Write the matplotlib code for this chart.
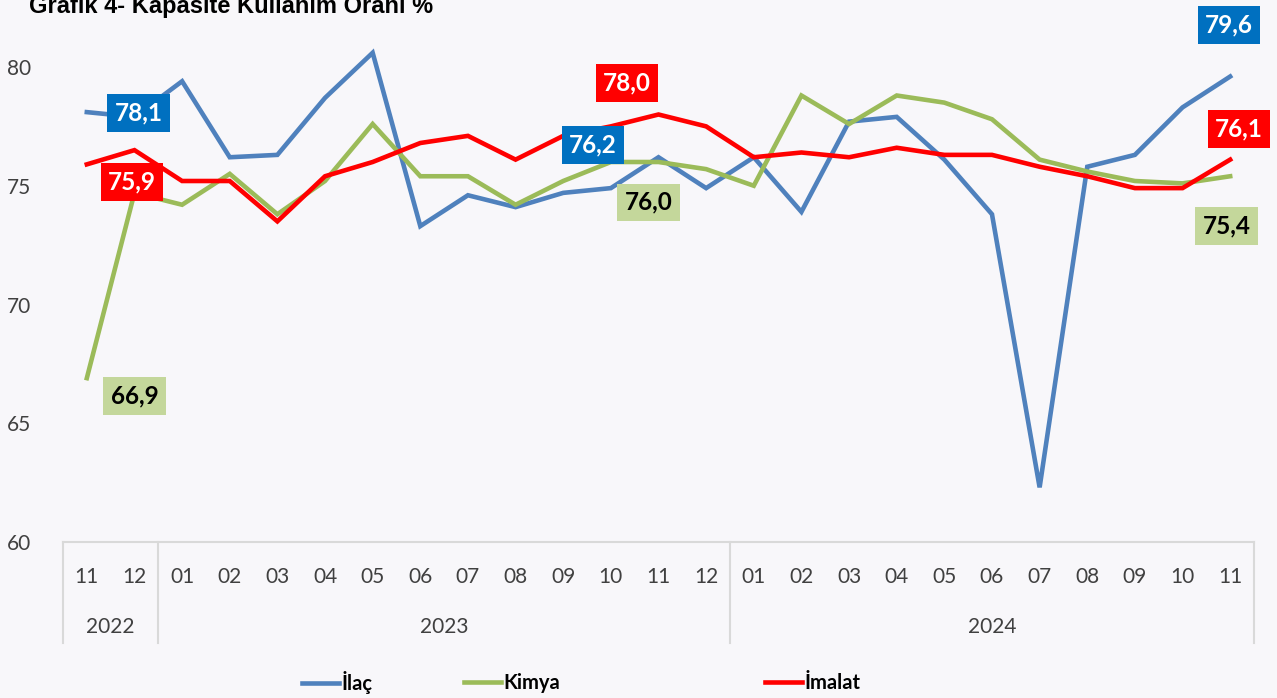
import matplotlib.pyplot as plt
from matplotlib.lines import Line2D

# data: Nov 2022 - Nov 2024 capacity utilisation (%)
months = ['11', '12', '01', '02', '03', '04', '05', '06', '07', '08', '09', '10', '11', '12',
          '01', '02', '03', '04', '05', '06', '07', '08', '09', '10', '11']
years = ['2022', '2023', '2024']
year_spans = [(0, 1), (2, 13), (14, 24)]

ilac = [78.1, 77.9, 79.4, 76.2, 76.3, 78.7, 80.6, 73.3, 74.6, 74.1, 74.7, 74.9, 76.2,
        74.9, 76.2, 73.9, 77.7, 77.9, 76.1, 73.8, 62.3, 75.8, 76.3, 78.3, 79.6]
kimya = [66.9, 74.7, 74.2, 75.5, 73.8, 75.2, 77.6, 75.4, 75.4, 74.2, 75.2, 76.0, 76.0,
         75.7, 75.0, 78.8, 77.6, 78.8, 78.5, 77.8, 76.1, 75.6, 75.2, 75.1, 75.4]
imalat = [75.9, 76.5, 75.2, 75.2, 73.5, 75.4, 76.0, 76.8, 77.1, 76.1, 77.1, 77.5, 78.0,
          77.5, 76.2, 76.4, 76.2, 76.6, 76.3, 76.3, 75.8, 75.4, 74.9, 74.9, 76.1]

bg = '#F8F7FA'
c_ilac, c_kimya, c_imalat = '#4F81BD', '#9BBB59', '#FF0000'

fig = plt.figure(figsize=(12.77, 6.98), dpi=100, facecolor=bg)
ax = fig.add_axes([63 / 1277, 1 - 542 / 698, 1191 / 1277, 542 / 698], facecolor=bg)

x = list(range(len(months)))
ax.plot(x, ilac, color=c_ilac, lw=3.3, solid_joinstyle='miter')
ax.plot(x, kimya, color=c_kimya, lw=3.3, solid_joinstyle='miter')
ax.plot(x, imalat, color=c_imalat, lw=3.3, solid_joinstyle='miter')

ax.set_xlim(-0.5, 24.5)
ax.set_ylim(60, 60 + 542 / 23.75)
ax.set_yticks([60, 65, 70, 75, 80])
ax.set_yticklabels(['60', '65', '70', '75', '80'], fontfamily='Lato', fontsize=15, color='#404040')
ax.tick_params(axis='y', length=0, pad=23)
ax.set_xticks([])
for s in ['top', 'right', 'left']:
    ax.spines[s].set_visible(False)
ax.spines['bottom'].set_color('#D9D9D9')
ax.spines['bottom'].set_linewidth(1.5)

# category axis: months, years and separators
tr = ax.get_xaxis_transform()
for i, m in enumerate(months):
    ax.text(i, -0.065, m, transform=tr, ha='center', va='center',
            fontfamily='Lato', fontsize=15, color='#404040')
for yr, (a, b) in zip(years, year_spans):
    ax.text((a + b) / 2, -0.157, yr, transform=tr, ha='center', va='center',
            fontfamily='Lato', fontsize=15, color='#404040')
for sep in [-0.5, 1.5, 13.5, 24.5]:
    ax.plot([sep, sep], [0, -0.186], transform=tr, color='#D9D9D9', lw=1.5, clip_on=False)

# value labels (first, middle and last November)
labels = [
    (1.09, 78.06, '78,1', '#0070C0', 'white'),
    (0.95, 75.16, '75,9', c_imalat, 'white'),
    (1.0, 66.15, '66,9', '#C4D79B', 'black'),
    (11.34, 79.33, '78,0', c_imalat, 'white'),
    (10.63, 76.72, '76,2', '#0070C0', 'white'),
    (11.79, 74.3, '76,0', '#C4D79B', 'black'),
    (23.98, 81.77, '79,6', '#0070C0', 'white'),
    (24.18, 77.39, '76,1', c_imalat, 'white'),
    (23.92, 73.3, '75,4', '#C4D79B', 'black'),
]
for lx, ly, txt, fc, tc in labels:
    ax.text(lx, ly, txt, ha='center', va='center', fontfamily='Lato', fontweight='bold',
            fontsize=17.5, color=tc, clip_on=False,
            bbox=dict(boxstyle='square,pad=0.3', fc=fc, ec='none'))

fig.text(29 / 1277, 1 - 13 / 698, 'Grafik 4- Kapasite Kullanım Oranı %',
         fontfamily='Liberation Sans', fontweight='bold', fontsize=17, va='baseline', ha='left')

# legend, entries placed like the original
entries = [('İlaç', c_ilac, 302), ('Kimya', c_kimya, 464), ('İmalat', c_imalat, 765)]
for name, col, px in entries:
    h = Line2D([], [], color=col, lw=3.3)
    fig.legend([h], [name], loc='center left', bbox_to_anchor=(px / 1277, 1 - 683 / 698),
               frameon=False, borderpad=0, borderaxespad=0, handlelength=1.85,
               handletextpad=0.12, prop={'family': 'Lato', 'weight': 'bold', 'size': 14.5})

fig.savefig('out.png', dpi=100, facecolor=bg)
